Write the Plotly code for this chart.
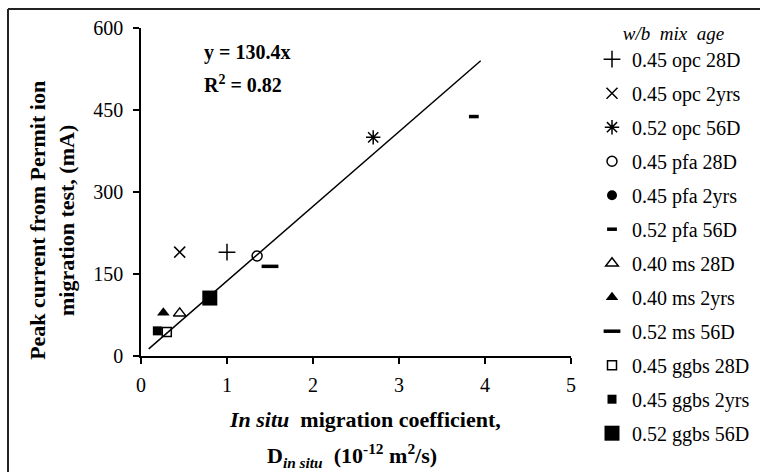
import plotly.graph_objects as go

# ---- data ----
series_names = ["0.45 opc 28D", "0.45 opc 2yrs", "0.52 opc 56D", "0.45 pfa 28D",
                "0.45 pfa 2yrs", "0.52 pfa 56D", "0.40 ms 28D", "0.40 ms 2yrs",
                "0.52 ms 56D", "0.45 ggbs 28D", "0.45 ggbs 2yrs", "0.52 ggbs 56D"]
d_insitu = [1.0, 0.45, 2.7, 1.35, None, 3.87, 0.45, 0.26, 1.5, 0.30, 0.19, 0.8]
peak_current = [190, 190, 400, 183, None, 438, 78, 79, 164, 44, 46, 106]

trend_x = [0.09, 3.95]
trend_y = [13, 540]

x_ticks = [0, 1, 2, 3, 4, 5]
y_ticks = [0, 150, 300, 450, 600]

# ---- styles ----
symbols = ["cross-thin-open", "x-thin-open", "asterisk-open", "circle-open",
           "circle", "line-ew-open", "triangle-up-open", "triangle-up",
           "line-ew-open", "square-open", "square", "square"]
sizes = [12, 11, 12, 10, 10, 7, 11, 11, 12, 9, 9, 15]
line_widths = [1.5, 1.5, 1.5, 1.5, 0, 3.5, 1.5, 0, 3.5, 1.5, 0, 0]

FONT = "Liberation Serif, Times New Roman, serif"

fig = go.Figure()

fig.add_trace(go.Scatter(x=trend_x, y=trend_y, mode="lines",
                         line=dict(color="black", width=1.5),
                         showlegend=False, hoverinfo="skip"))

for i, name in enumerate(series_names):
    fig.add_trace(go.Scatter(
        x=[d_insitu[i]], y=[peak_current[i]], mode="markers", name=name,
        legendgroup=name,
        marker=dict(symbol=symbols[i], size=sizes[i], color="black",
                    line=dict(color="black", width=line_widths[i])),
    ))

fig.update_layout(
    width=760, height=472,
    margin=dict(l=141, r=189, t=28, b=116),
    paper_bgcolor="white", plot_bgcolor="white",
    font=dict(family=FONT, size=20, color="black"),
    showlegend=True,
    legend=dict(
        xref="container", yref="container",
        x=592 / 760, xanchor="left", y=(472 - 15) / 472, yanchor="top",
        title=dict(text="<i>w/b  mix  age</i>", side="top center",
                   font=dict(family=FONT, size=19)),
        font=dict(family=FONT, size=20),
        tracegroupgap=5, itemwidth=30,
        bgcolor="rgba(0,0,0,0)",
    ),
    xaxis=dict(range=[0, 5], tickvals=x_ticks, ticks="outside", ticklen=6,
               tickwidth=1.5, tickcolor="black", showline=True, linecolor="black",
               linewidth=1.5, showgrid=False, zeroline=False,
               tickfont=dict(family=FONT, size=20), ticklabelstandoff=4),
    yaxis=dict(range=[0, 600], tickvals=y_ticks, ticks="outside", ticklen=6,
               tickwidth=1.5, tickcolor="black", showline=True, linecolor="black",
               linewidth=1.5, showgrid=False, zeroline=False,
               tickfont=dict(family=FONT, size=20), ticklabelstandoff=6),
)
try:
    fig.update_layout(legend_maxheight=465)
except Exception:
    pass

# equation text
fig.add_annotation(x=0.714, y=555, xref="x", yref="y", xanchor="left", yanchor="middle",
                   text="<b>y = 130.4x</b>", showarrow=False,
                   font=dict(family=FONT, size=20))
fig.add_annotation(x=0.714, y=498, xref="x", yref="y", xanchor="left", yanchor="middle",
                   text="<b>R<sup>2</sup> = 0.82</b>", showarrow=False,
                   font=dict(family=FONT, size=20))

# axis titles
fig.add_annotation(x=-0.207, y=0.415, xref="paper", yref="paper", textangle=-90,
                   xanchor="center", yanchor="middle", showarrow=False,
                   text="<b>Peak current from Permit ion<br>migration test, (mA)</b>",
                   font=dict(family=FONT, size=22))
fig.add_annotation(x=0.521, y=-0.195, xref="paper", yref="paper",
                   xanchor="center", yanchor="middle", showarrow=False,
                   text="<b><i>In situ</i>  migration coefficient,</b>",
                   font=dict(family=FONT, size=22))
fig.add_annotation(x=0.491, y=-0.302, xref="paper", yref="paper",
                   xanchor="center", yanchor="middle", showarrow=False,
                   text="<b>D<sub><i>in situ</i></sub>  (10<sup>-12</sup> m<sup>2</sup>/s)</b>",
                   font=dict(family=FONT, size=22))

# outer frame (left and top edges visible)
fig.add_shape(type="line", xref="paper", yref="paper", x0=-0.3093, x1=-0.3093,
              y0=-0.6, y1=1.0579, line=dict(color="#222", width=2))
fig.add_shape(type="line", xref="paper", yref="paper", x0=-0.3093, x1=1.6,
              y0=1.0579, y1=1.0579, line=dict(color="#222", width=2))

fig.write_html("out.html", config={"displayModeBar": False},
               post_script="document.body.style.margin='0px';")
